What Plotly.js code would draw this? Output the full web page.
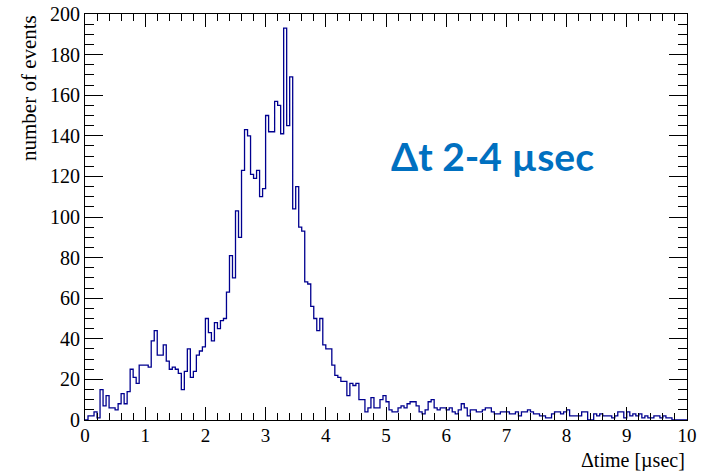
<!DOCTYPE html>
<html>
<head>
<meta charset="utf-8">
<script src="https://cdn.plot.ly/plotly-3.0.1.min.js"></script>
<style>
  html, body { margin: 0; padding: 0; background: #ffffff; }
  #chart { width: 707px; height: 471px; }
</style>
</head>
<body>
<div id="chart"></div>
<script>
// Histogram: Δtime [µsec], 200 bins of 0.05 µsec from 0 to 10
const xMin = 0;
const xMax = 10;
const binWidth = 0.05;
const counts = [
  0, 2, 2, 4, 1, 15, 7, 12, 6, 6,
  5, 8, 13, 8, 14, 25, 21, 18, 27, 27,
  27, 26, 39, 44, 32, 32, 37, 29, 25, 26,
  25, 23, 15, 24, 35, 21, 24, 32, 34, 36,
  50, 43, 39, 48, 45, 49, 50, 63, 81, 70,
  103, 90, 123, 143, 140, 121, 119, 123, 110, 114,
  150, 142, 142, 157, 155, 141, 193, 145, 169, 104,
  115, 95, 93, 68, 67, 56, 50, 44, 50, 37,
  35, 35, 27, 22, 21, 19, 19, 12, 18, 17,
  18, 10, 10, 4, 6, 11, 6, 6, 10, 12,
  9, 5, 4, 4, 6, 7, 6, 8, 9, 9,
  7, 4, 3, 5, 9, 10, 6, 5, 6, 6,
  5, 6, 4, 3, 5, 8, 6, 2, 5, 5,
  4, 4, 5, 6, 6, 4, 3, 3, 4, 4,
  4, 3, 3, 4, 2, 4, 4, 5, 4, 3,
  3, 2, 2, 1, 1, 3, 4, 4, 3, 4,
  5, 2, 2, 2, 2, 4, 4, 0, 0, 3,
  2, 3, 2, 2, 2, 1, 2, 4, 4, 1,
  4, 2, 3, 2, 3, 1, 2, 1, 1, 2,
  2, 1, 2, 1, 1, 0, 0, 0, 0, 0
];
const xTitle = "Δtime [µsec]";
const yTitle = "number of events";
const labelText = "Δt 2-4 µsec";

// Build step outline from bin edges
const edges = counts.map((_, i) => xMin + i * binWidth);
edges.push(xMax);
const stepX = [xMin].concat(edges);
const stepY = [0].concat(counts, [counts[counts.length - 1]]);

const trace = {
  type: 'scatter',
  mode: 'lines',
  x: stepX,
  y: stepY,
  line: { shape: 'hv', color: '#00008f', width: 1.3 },
  hoverinfo: 'skip',
  showlegend: false
};

const serif = 'Liberation Serif, Times New Roman, serif';

const layout = {
  width: 707,
  height: 471,
  margin: { l: 85, r: 20, t: 14, b: 51 },
  paper_bgcolor: '#ffffff',
  plot_bgcolor: '#ffffff',
  showlegend: false,
  xaxis: {
    range: [xMin, xMax],
    dtick: 1,
    tick0: 0,
    ticks: 'inside',
    ticklen: 13,
    tickwidth: 1,
    tickcolor: '#000',
    showline: true,
    linecolor: '#000',
    linewidth: 1,
    mirror: 'ticks',
    showgrid: false,
    zeroline: false,
    ticklabelstandoff: -2,
    tickfont: { family: serif, size: 19, color: '#000' },
    minor: { dtick: 0.2, ticks: 'inside', ticklen: 7, tickcolor: '#000', showgrid: false }
  },
  yaxis: {
    range: [0, 200],
    dtick: 20,
    tick0: 0,
    ticks: 'inside',
    ticklen: 18,
    tickwidth: 1,
    tickcolor: '#000',
    showline: true,
    linecolor: '#000',
    linewidth: 1,
    mirror: 'ticks',
    showgrid: false,
    zeroline: false,
    tickfont: { family: serif, size: 20, color: '#000' },
    minor: { dtick: 5, ticks: 'inside', ticklen: 9, tickcolor: '#000', showgrid: false }
  },
  annotations: [
    {
      text: xTitle, xref: 'paper', yref: 'paper', x: 1, y: 0,
      xanchor: 'right', yanchor: 'top', yshift: -27, showarrow: false,
      font: { family: serif, size: 20, color: '#000' }
    },
    {
      text: yTitle, xref: 'paper', yref: 'paper', x: 0, y: 1,
      xanchor: 'right', yanchor: 'top', xshift: -42, yshift: 1, textangle: -90, showarrow: false,
      font: { family: serif, size: 21, color: '#000' }
    },
    {
      text: '<b>' + labelText + '</b>', xref: 'x', yref: 'y', x: 6.77, y: 130,
      xanchor: 'center', yanchor: 'middle', showarrow: false,
      font: { family: 'Lato, Open Sans, sans-serif', size: 39, color: '#0070c0' }
    }
  ]
};

Plotly.newPlot('chart', [trace], layout, { displayModeBar: false, staticPlot: true });
</script>
</body>
</html>
